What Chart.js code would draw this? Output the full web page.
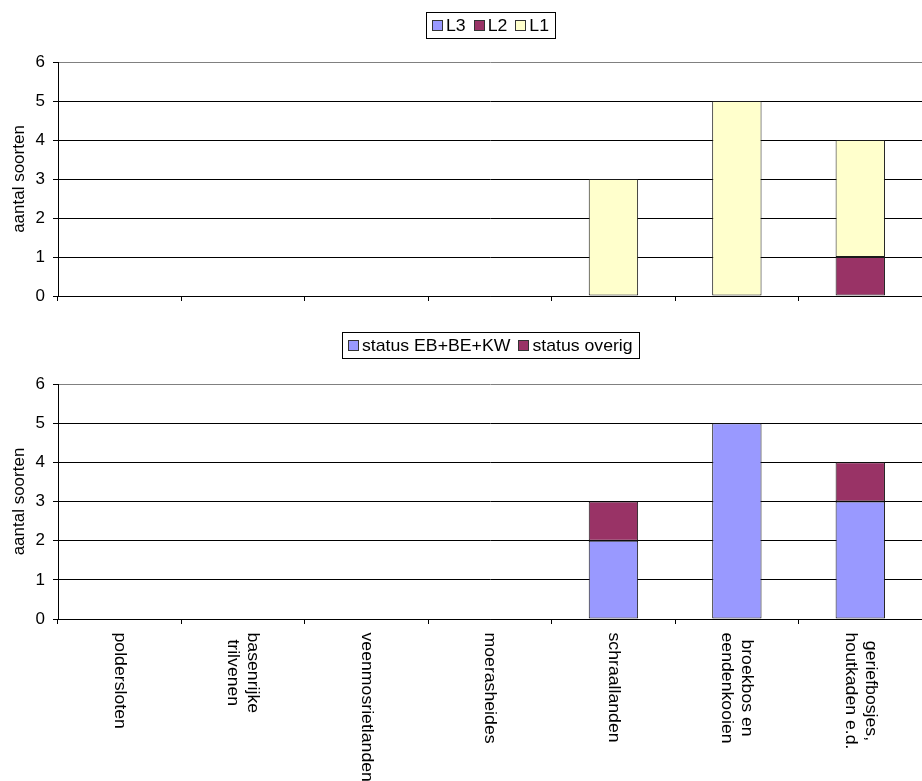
<!DOCTYPE html>
<html>
<head>
<meta charset="utf-8">
<script src="https://cdn.jsdelivr.net/npm/chart.js@4.4.0/dist/chart.umd.min.js"></script>
<style>
  html, body { margin: 0; padding: 0; background: #fff; overflow: hidden; }
  canvas { position: absolute; left: 0; }
  #chartTop { top: 0; }
  #chartBottom { top: 320px; }
</style>
</head>
<body>
<canvas id="chartTop" width="922" height="320"></canvas>
<canvas id="chartBottom" width="922" height="461"></canvas>
<script>
// categories (multi-line labels as in the original)
const categories = [
    ["poldersloten"],
    ["basenrijke", "trilvenen"],
    ["veenmosrietlanden"],
    ["moerasheides"],
    ["schraallanden"],
    ["broekbos en", "eendenkooien"],
    ["geriefbosjes,", "houtkaden e.d."],
];

// top chart: L3 / L2 / L1
const l3Values = [0, 0, 0, 0, 0, 0, 0];
const l2Values = [0, 0, 0, 0, 0, 0, 1];
const l1Values = [0, 0, 0, 0, 3, 5, 3];

// bottom chart: status
const statusEbBeKw = [0, 0, 0, 0, 2, 5, 3];
const statusOverig = [0, 0, 0, 0, 1, 0, 1];

const yTicks = [0, 1, 2, 3, 4, 5, 6];

const FONT_FAMILY = '"Liberation Sans", Arial, sans-serif';
const FONT = "17px " + FONT_FAMILY;
const STRETCH = 1.04;
const LINE_H = 20;

Chart.defaults.font.family = FONT_FAMILY;
Chart.defaults.font.size = 17;
Chart.defaults.color = "#000";

// legend inside a thin black box, centred over the plot area
const boxedLegend = {
    id: "boxedLegend",
    afterDraw(chart, args, opts) {
        const ctx = chart.ctx;
        const area = chart.chartArea;
        const pad = 6, sq = 10, sqGap = 4, itemGap = 8, h = 26;
        ctx.save();
        ctx.font = FONT;
        const items = chart.data.datasets.map(ds => ({
            label: ds.label,
            color: ds.backgroundColor,
            w: ctx.measureText(ds.label).width * STRETCH,
        }));
        const total = pad * 2 + items.reduce((s, it) => s + sq + sqGap + it.w, 0) + itemGap * (items.length - 1);
        let x = Math.round((area.left + area.right) / 2 - total / 2);
        const top = opts.top;
        const cy = top + h / 2;
        ctx.strokeStyle = "#000";
        ctx.lineWidth = 1;
        ctx.strokeRect(x + 0.5, top + 0.5, Math.round(total), h);
        x += pad;
        ctx.textAlign = "left";
        ctx.textBaseline = "middle";
        items.forEach(it => {
            const sx = Math.round(x) + 0.5, sy = Math.round(cy - sq / 2) + 0.5;
            ctx.fillStyle = it.color;
            ctx.fillRect(sx, sy, sq, sq);
            ctx.strokeStyle = "#333";
            ctx.strokeRect(sx, sy, sq, sq);
            ctx.save();
            ctx.translate(x + sq + sqGap, cy + 1);
            ctx.scale(STRETCH, 1);
            ctx.fillStyle = "#000";
            ctx.fillText(it.label, 0, 0);
            ctx.restore();
            x += sq + sqGap + it.w + itemGap;
        });
        ctx.restore();
    },
};

// category labels turned a quarter clockwise, read top to bottom
const rotatedLabels = {
    id: "rotatedLabels",
    afterDraw(chart) {
        const xs = chart.scales.x;
        const ctx = chart.ctx;
        ctx.save();
        ctx.font = FONT;
        ctx.fillStyle = "#000";
        ctx.textAlign = "center";
        ctx.textBaseline = "middle";
        xs.ticks.forEach((t, i) => {
            const lines = [].concat(chart.data.labels[i]);
            const maxW = Math.max(...lines.map(l => ctx.measureText(l).width)) * STRETCH;
            ctx.save();
            ctx.translate(xs.getPixelForTick(i), chart.chartArea.bottom + 13.5);
            ctx.rotate(Math.PI / 2);
            lines.forEach((line, j) => {
                const off = (j - (lines.length - 1) / 2) * LINE_H;
                ctx.save();
                ctx.translate(maxW / 2, off);
                ctx.scale(STRETCH, 1);
                ctx.fillText(line, 0, 0);
                ctx.restore();
            });
            ctx.restore();
        });
        ctx.restore();
    },
};

function barSet(label, data, color) {
    return {
        label: label,
        data: data,
        backgroundColor: color,
        borderColor: "#1a1a1a",
        borderWidth: c => (c.raw ? 1 : 0),
        borderSkipped: false,
        barPercentage: 0.4,
        categoryPercentage: 1.0,
    };
}

function makeOptions(plotTop, xAxisHeight) {
    return {
        responsive: false,
        animation: false,
        layout: { padding: { top: plotTop, left: 0, right: 0, bottom: 0 } },
        plugins: {
            legend: { display: false },
            tooltip: { enabled: false },
            boxedLegend: { top: 12 },
        },
        scales: {
            x: {
                stacked: true,
                ticks: { display: false },
                grid: { offset: true, drawOnChartArea: false, drawTicks: true, tickLength: 5, color: "#000" },
                border: { color: "#000" },
                afterFit: s => { s.height = xAxisHeight; },
            },
            y: {
                stacked: true,
                min: yTicks[0],
                max: yTicks[yTicks.length - 1],
                ticks: { stepSize: 1, padding: 8, color: "#000" },
                grid: {
                    color: c => (c.tick && c.tick.value === yTicks[yTicks.length - 1] ? "#808080" : "#000"),
                    tickColor: "#000",
                    tickLength: 5,
                },
                border: { color: "#000" },
                title: { display: true, text: "aantal soorten", color: "#000", padding: { top: 9, bottom: 0 } },
                afterFit: s => { s.width = 58; },
            },
        },
    };
}

new Chart(document.getElementById("chartTop"), {
    type: "bar",
    data: {
        labels: categories,
        datasets: [
            barSet("L3", l3Values, "#9999FF"),
            barSet("L2", l2Values, "#993366"),
            barSet("L1", l1Values, "#FFFFCC"),
        ],
    },
    options: makeOptions(62, 24),
    plugins: [boxedLegend],
});

new Chart(document.getElementById("chartBottom"), {
    type: "bar",
    data: {
        labels: categories,
        datasets: [
            barSet("status EB+BE+KW", statusEbBeKw, "#9999FF"),
            barSet("status overig", statusOverig, "#993366"),
        ],
    },
    options: makeOptions(64, 162),
    plugins: [boxedLegend, rotatedLabels],
});
</script>
</body>
</html>
